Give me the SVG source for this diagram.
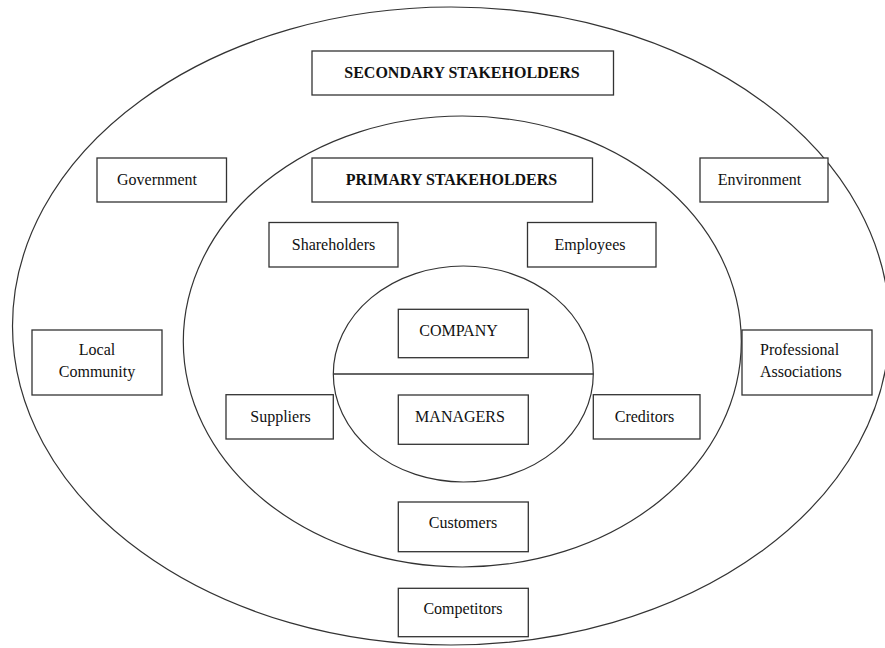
<svg xmlns="http://www.w3.org/2000/svg" width="885" height="648" viewBox="0 0 885 648">
<style>
.ring{fill:none;stroke:#333;stroke-width:1.2}
.box{fill:#fff;stroke:#333;stroke-width:1.3}
text{font-family:"Liberation Serif","Times New Roman",serif;font-size:16px;fill:#111;text-anchor:middle}
.hd{font-weight:bold}
</style>
<rect width="885" height="648" fill="#fff"/>
<g id="rings">
<ellipse class="ring" cx="451" cy="326" rx="438.5" ry="319"/>
<ellipse class="ring" cx="462.3" cy="341.5" rx="279" ry="225.5"/>
<ellipse class="ring" cx="463.3" cy="374" rx="130" ry="108"/>
</g>
<g id="connectors">
<line x1="333.3" y1="374" x2="593.3" y2="374" stroke="#333" stroke-width="1.3"/>
</g>
<g id="secondary-stakeholders"><rect class="box" x="312" y="51" width="301.5" height="44"/><text class="hd" x="462" y="77.5">SECONDARY STAKEHOLDERS</text></g>
<g id="government"><rect class="box" x="97" y="158" width="129.5" height="44"/><text x="157" y="185">Government</text></g>
<g id="primary-stakeholders"><rect class="box" x="312" y="158" width="280.5" height="44"/><text class="hd" x="451.5" y="185">PRIMARY STAKEHOLDERS</text></g>
<g id="environment"><rect class="box" x="700" y="158" width="128" height="44"/><text x="759.5" y="185">Environment</text></g>
<g id="shareholders"><rect class="box" x="269" y="222.5" width="129" height="44.5"/><text x="333.5" y="249.5">Shareholders</text></g>
<g id="employees"><rect class="box" x="527.5" y="222.5" width="128.5" height="44.5"/><text x="590" y="249.5">Employees</text></g>
<g id="local-community"><rect class="box" x="32" y="330" width="130" height="65"/><text x="97" y="355">Local</text><text x="97" y="377">Community</text></g>
<g id="professional-associations"><rect class="box" x="742" y="330" width="130" height="65"/><text x="760" y="355" style="text-anchor:start">Professional</text><text x="760" y="377" style="text-anchor:start">Associations</text></g>
<g id="company"><rect class="box" x="398.3" y="309.3" width="130" height="48.4"/><text x="458.5" y="336">COMPANY</text></g>
<g id="suppliers"><rect class="box" x="226" y="394.7" width="107.3" height="44.3"/><text x="280.5" y="421.7">Suppliers</text></g>
<g id="managers"><rect class="box" x="398.3" y="395" width="130" height="49.3"/><text x="460" y="421.7">MANAGERS</text></g>
<g id="creditors"><rect class="box" x="593.3" y="394.7" width="106.7" height="44.3"/><text x="644.5" y="421.7">Creditors</text></g>
<g id="customers"><rect class="box" x="398.3" y="502" width="130" height="49.7"/><text x="463" y="528.3">Customers</text></g>
<g id="competitors"><rect class="box" x="398.3" y="588.3" width="130" height="48.4"/><text x="463" y="614.3">Competitors</text></g>
</svg>
